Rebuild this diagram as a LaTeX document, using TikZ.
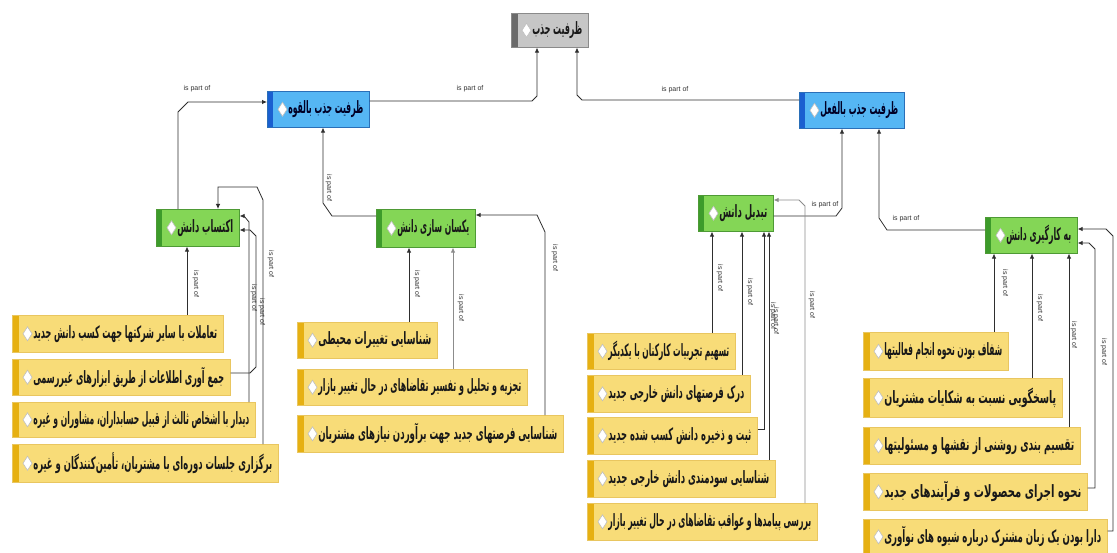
\documentclass[tikz,border=0pt]{standalone}
\usepackage{fontspec}
\usepackage{graphicx}
\setsansfont{Liberation Sans}
\newfontfamily\arabicfont[Script=Arabic]{DejaVu Sans}
\TeXXeTstate=1
\usetikzlibrary{arrows.meta,calc}
\definecolor{yfill}{HTML}{F8DC78}
\definecolor{ystrip}{HTML}{E6B012}
\definecolor{ybord}{HTML}{E9C660}
\definecolor{gfill}{HTML}{84D656}
\definecolor{gstrip}{HTML}{3D9B2B}
\definecolor{gbord}{HTML}{4E9A35}
\definecolor{bfill}{HTML}{55B6F4}
\definecolor{bstrip}{HTML}{1A5FD0}
\definecolor{bbord}{HTML}{2A6FB8}
\definecolor{kfill}{HTML}{C6C6C6}
\definecolor{kstrip}{HTML}{6A6A6A}
\definecolor{kbord}{HTML}{8A8A8A}
\definecolor{linec}{HTML}{2E2E2E}
\definecolor{lineg}{HTML}{8C8C8C}
\tikzset{
  boxbase/.style={inner sep=0pt, line width=0.6pt, font=\fontsize{17}{18}\selectfont\bfseries, text=black!90},
  ybox/.style={boxbase, draw=ybord, fill=yfill, path picture={\fill[ystrip] (path picture bounding box.south west) rectangle ([xshift=7pt]path picture bounding box.north west);}},
  gbox/.style={boxbase, draw=gbord, fill=gfill, path picture={\fill[gstrip] (path picture bounding box.south west) rectangle ([xshift=6pt]path picture bounding box.north west);}},
  bbox/.style={boxbase, draw=bbord, fill=bfill, text={black!85!blue}, path picture={\fill[bstrip] (path picture bounding box.south west) rectangle ([xshift=6pt]path picture bounding box.north west);}},
  kbox/.style={boxbase, draw=kbord, fill=kfill, path picture={\fill[kstrip] (path picture bounding box.south west) rectangle ([xshift=7pt]path picture bounding box.north west);}},
  dia/.style={draw=black!25, fill=white, line width=0.6pt},
  arr/.style={draw=linec, line width=0.8pt, -{Latex[length=5pt,width=4.5pt]}},
  arrg/.style={arr, draw=lineg},
  lab/.style={font=\sffamily\fontsize{7}{8}\selectfont, text=black!80, inner sep=0pt},
  vlab/.style={lab, rotate=-90},
}
\newcommand\mybox[7]{%
  \pgfmathsetmacro\myBW{#5-#3}\pgfmathsetmacro\myBH{#6-#4}\pgfmathsetmacro\myTW{#5-#3-27}%
  \node[#1, minimum width=\myBW pt, minimum height=\myBH pt, anchor=north west] (#2) at (#3,#4)
    {\hbox to \myBW pt{\hskip21pt\resizebox{\myTW pt}{\height}{\arabicfont #7}\hss}};
  \draw[dia] ([xshift=15.5pt]#2.west) +(0,7) -- +(4.5,0) -- +(0,-7) -- +(-4.5,0) -- cycle;
}
\begin{document}
\begin{tikzpicture}[x=1pt,y=-1pt]
\useasboundingbox (0,0) rectangle (1117,553);
\fill[white] (0,0) rectangle (1117,553);
% main nodes
\mybox{kbox}{top}{511}{13}{588}{47}{\beginR ظرفیت جذب\endR}
\mybox{bbox}{b1}{267}{91}{369}{127}{\beginR ظرفیت جذب بالقوه\endR}
\mybox{bbox}{b2}{799}{92}{904}{128}{\beginR ظرفیت جذب بالفعل\endR}
\mybox{gbox}{g1}{156}{209}{239}{246}{\beginR اکتساب دانش\endR}
\mybox{gbox}{g2}{376}{209}{475}{247}{\beginR یکسان سازی دانش\endR}
\mybox{gbox}{g3}{698}{195}{773}{231}{\beginR تبدیل دانش\endR}
\mybox{gbox}{g4}{985}{217}{1077}{253}{\beginR به کارگیری دانش\endR}
% group 1
\mybox{ybox}{a1}{12}{315}{223}{352}{\beginR تعاملات با سایر شرکتها جهت کسب دانش جدید\endR}
\mybox{ybox}{a2}{12}{359}{230}{395}{\beginR جمع آوری اطلاعات از طریق ابزارهای غیررسمی\endR}
\mybox{ybox}{a3}{12}{402}{255}{437}{\beginR دیدار با اشخاص ثالث از قبیل حسابداران، مشاوران و غیره\endR}
\mybox{ybox}{a4}{12}{444}{278}{482}{\beginR برگزاری جلسات دوره‌ای با مشتریان، تأمین‌کنندگان و غیره\endR}
% group 2
\mybox{ybox}{c1}{297}{322}{437}{358}{\beginR شناسایی تغییرات محیطی\endR}
\mybox{ybox}{c2}{297}{369}{527}{405}{\beginR تجزیه و تحلیل و تفسیر تقاضاهای در حال تغییر بازار\endR}
\mybox{ybox}{c3}{297}{415}{563}{452}{\beginR شناسایی فرصتهای جدید جهت برآوردن نیازهای مشتریان\endR}
% group 3
\mybox{ybox}{d1}{587}{333}{735}{369}{\beginR تسهیم تجربیات کارکنان با یکدیگر\endR}
\mybox{ybox}{d2}{587}{375}{750}{412}{\beginR درک فرصتهای دانش خارجی جدید\endR}
\mybox{ybox}{d3}{587}{417}{757}{454}{\beginR ثبت و ذخیره دانش کسب شده جدید\endR}
\mybox{ybox}{d4}{587}{460}{775}{497}{\beginR شناسایی سودمندی دانش خارجی جدید\endR}
\mybox{ybox}{d5}{587}{503}{817}{540}{\beginR بررسی پیامدها و عواقب تقاضاهای در حال تغییر بازار\endR}
% group 4
\mybox{ybox}{e1}{863}{332}{1008}{370}{\beginR شفاف بودن نحوه انجام فعالیتها\endR}
\mybox{ybox}{e2}{863}{378}{1062}{417}{\beginR پاسخگویی نسبت به شکایات مشتریان\endR}
\mybox{ybox}{e3}{863}{427}{1080}{464}{\beginR تقسیم بندی روشنی از نقشها و مسئولیتها\endR}
\mybox{ybox}{e4}{863}{473}{1087}{510}{\beginR نحوه اجرای محصولات و فرآیندهای جدید\endR}
\mybox{ybox}{e5}{863}{519}{1107}{554}{\beginR دارا بودن یک زبان مشترک درباره شیوه های نوآوری\endR}
% top-level connectors
\draw[arr] (b1.east |- 0,101) -- (532,101) -- (537,96) -- (top.south -| 537,0);
\draw[arr] (b2.west |- 0,100) -- (582,100) -- (577,95) -- (top.south -| 577,0);
\draw[arr] (g1.north -| 178,0) -- (178,112) -- (188,102) -- (b1.west |- 0,102);
\draw[arr] (g2.west |- 0,216) -- (332,216) -- (323,203) -- (b1.south -| 323,0);
\draw[arr] (g3.east |- 0,216) -- (836,216) -- (842,208) -- (b2.south -| 842,0);
\draw[arr] (g4.west |- 0,230) -- (887,230) -- (879,218) -- (b2.south -| 879,0);
\node[lab] (l1) at (197,89) {is part of};
\node[lab] (l2) at (470,89) {is part of};
\node[lab] (l3) at (675,90) {is part of};
\node[vlab] (l4) at (329,188) {is part of};
\node[lab] (l5) at (825,205) {is part of};
\node[lab] (l6) at (906,219) {is part of};
% group 1 connectors
\draw[arr] (a1.north -| 187,0) -- (g1.south -| 187,0);
\draw[arr] (a2.east |- 0,373) -- (250,373) -- (256,367) -- (256,236) -- (250,230) -- (g1.east |- 0,230);
\draw[arr] (a3.north -| 249,0) -- (249,222) -- (244,216) -- (g1.east |- 0,216);
\draw[arr] (a4.north -| 263,0) -- (263,200) -- (257,187) -- (218,187) -- (g1.north -| 218,0);
\node[vlab] (m1) at (196,284) {is part of};
\node[vlab] (m2) at (271,264) {is part of};
\node[vlab] (m3) at (254,298) {is part of};
\node[vlab] (m4) at (262,312) {is part of};
% group 2 connectors
\draw[arr] (c1.north -| 409,0) -- (g2.south -| 409,0);
\draw[arrg] (c2.north -| 453,0) -- (g2.south -| 453,0);
\draw[arr] (c3.north -| 545,0) -- (545,232) -- (537,215) -- (g2.east |- 0,215);
\node[vlab] (n1) at (417,284) {is part of};
\node[vlab] (n2) at (461,308) {is part of};
\node[vlab] (n3) at (555,258) {is part of};
% group 3 connectors
\draw[arr] (d1.north -| 712,0) -- (g3.south -| 712,0);
\draw[arr] (d2.north -| 742,0) -- (g3.south -| 742,0);
\draw[arr] (d3.east |- 0,429) -- (764,429) -- (g3.south -| 764,0);
\draw[arr] (d4.north -| 769,0) -- (g3.south -| 769,0);
\draw[arrg] (d5.north -| 805,0) -- (805,206) -- (799,200) -- (g3.east |- 0,200);
\node[vlab] (o1) at (720,278) {is part of};
\node[vlab] (o2) at (750,292) {is part of};
\node[vlab] (o3) at (773,316) {is part of};
\node[vlab] (o4) at (776,321) {is part of};
\node[vlab] (o5) at (812,305) {is part of};
% group 4 connectors
\draw[arr] (e1.north -| 994,0) -- (g4.south -| 994,0);
\draw[arr] (e2.north -| 1032,0) -- (g4.south -| 1032,0);
\draw[arr] (e3.north -| 1069,0) -- (g4.south -| 1069,0);
\draw[arr] (e4.east |- 0,488) -- (1095,488) -- (1095,249) -- (1089,243) -- (g4.east |- 0,243);
\draw[arr] (e5.east |- 0,531) -- (1113,531) -- (1113,236) -- (1106,229) -- (g4.east |- 0,229);
\node[vlab] (p1) at (1005,283) {is part of};
\node[vlab] (p2) at (1040,308) {is part of};
\node[vlab] (p3) at (1074,335) {is part of};
\node[vlab] (p4) at (1104,352) {is part of};
\end{tikzpicture}
\end{document}
